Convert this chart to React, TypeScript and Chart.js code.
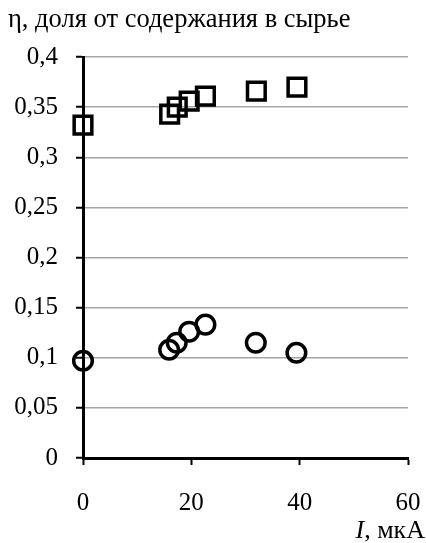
import React, { useEffect, useRef } from "react";
import { Chart, registerables } from "chart.js";

Chart.register(...registerables);

const titleText = "η, доля от содержания в сырье";
const xLabelItalic = "I";
const xLabelRest = ", мкА";

const squaresX = [0, 16.0, 17.4, 19.6, 22.6, 32.0, 39.5];
const squaresY = [0.332, 0.343, 0.35, 0.356, 0.361, 0.366, 0.37];
const circlesX = [0, 15.9, 17.3, 19.6, 22.6, 31.9, 39.4];
const circlesY = [0.097, 0.108, 0.115, 0.126, 0.133, 0.115, 0.105];

const FONT = "'Liberation Serif', 'Times New Roman', serif";

const textPlugin = {
  id: "textPlugin",
  afterDraw(chart: any) {
    const ctx = chart.ctx;
    ctx.save();
    ctx.fillStyle = "#000";
    ctx.textBaseline = "alphabetic";
    ctx.textAlign = "left";
    ctx.font = `26.5px ${FONT}`;
    ctx.fillText(titleText, 8, 27);
    // x axis label, right aligned
    ctx.font = `26px ${FONT}`;
    const restW = ctx.measureText(xLabelRest).width;
    ctx.font = `italic 26px ${FONT}`;
    const iW = ctx.measureText(xLabelItalic).width;
    const right = 425;
    const base = 538;
    ctx.fillText(xLabelItalic, right - restW - iW, base);
    ctx.font = `26px ${FONT}`;
    ctx.fillText(xLabelRest, right - restW, base);
    ctx.restore();
  },
};

export default function App() {
  const ref = useRef<HTMLCanvasElement>(null);
  useEffect(() => {
    if (!ref.current) return;
    const toPts = (xs: number[], ys: number[]) => xs.map((x, i) => ({ x, y: ys[i] }));
    const chart = new Chart(ref.current, {
      type: "scatter",
      data: {
        datasets: [
          {
            data: toPts(squaresX, squaresY),
            pointStyle: "rect",
            pointRadius: 12.5,
            pointHoverRadius: 12.5,
            borderColor: "#000",
            backgroundColor: "rgba(0,0,0,0)",
            pointBorderWidth: 3.5,
            borderWidth: 3.5,
            clip: false as any,
          },
          {
            data: toPts(circlesX, circlesY),
            pointStyle: "circle",
            pointRadius: 9.3,
            pointHoverRadius: 9.3,
            borderColor: "#000",
            backgroundColor: "rgba(0,0,0,0)",
            pointBorderWidth: 3.5,
            borderWidth: 3.5,
            clip: false as any,
          },
        ],
      },
      options: {
        animation: false,
        responsive: false,
        maintainAspectRatio: false,
        layout: { padding: { left: 0, right: 0, top: 57, bottom: 0 } },
        plugins: {
          legend: { display: false },
          title: { display: false },
          tooltip: { enabled: false },
        },
        scales: {
          x: {
            type: "linear",
            min: 0,
            max: 60,
            ticks: {
              stepSize: 20,
              color: "#000",
              font: { family: FONT, size: 25 },
              padding: 23,
              maxRotation: 0,
            },
            grid: {
              drawOnChartArea: false,
              drawTicks: true,
              tickLength: 7,
              tickColor: "#000",
              tickWidth: 2,
            },
            border: { color: "#000", width: 3 },
            afterFit: (s: any) => {
              s.height = 85;
              s.paddingRight = 18;
              s.paddingLeft = 0;
            },
          },
          y: {
            type: "linear",
            min: 0,
            max: 0.4,
            ticks: {
              stepSize: 0.05,
              color: "#000",
              font: { family: FONT, size: 25 },
              padding: 18,
              callback: (v: any) => String(+Number(v).toFixed(2)).replace(".", ","),
            },
            grid: {
              color: "#a6a6a6",
              lineWidth: 1.5,
              drawTicks: true,
              tickLength: 7,
              tickColor: "#000",
              tickWidth: 2,
            },
            border: { color: "#000", width: 3 },
            afterFit: (s: any) => {
              s.width = 83;
            },
          },
        },
      },
      plugins: [textPlugin],
    });
    return () => chart.destroy();
  }, []);
  return (
    <div style={{ position: "fixed", left: 0, top: 0, width: 426, height: 543, background: "#fff" }}>
      <canvas ref={ref} width={426} height={543} style={{ width: 426, height: 543 }} />
    </div>
  );
}
